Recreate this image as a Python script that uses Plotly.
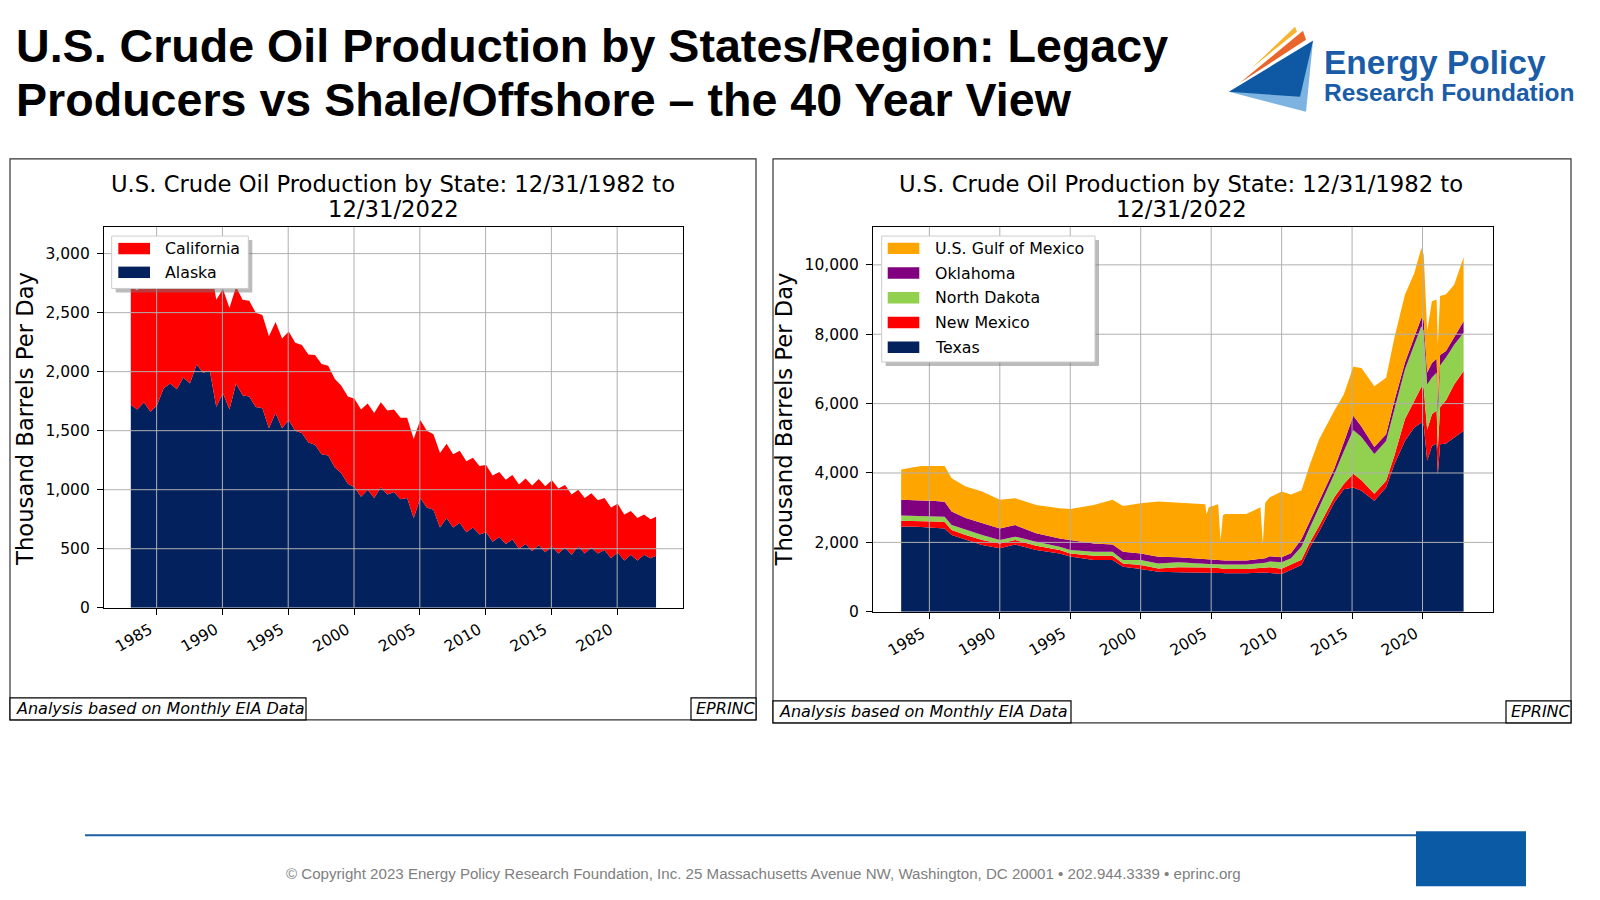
import plotly.graph_objects as go

# page has an 8px body margin; the captured picture is also slightly compressed vertically,
# so page-pixel targets are mapped onto figure pixels here
OFF = 8
W, H = 1600 - 2 * OFF, 892
YS, YO = 1.01208, 8.47
def fx(p): return (p - OFF) / W
def fy(p): return 1 - (YS * p - YO) / H

# ---------------- Left chart data (semi-annual readings, kb/d) ----------------
left_years = list(range(1983, 2023))
left_dates = [f"{y}-{m}-15" for y in left_years for m in ("01", "07")] + ["2022-12-15"]
alaska = [1720, 1680, 1740, 1660, 1720, 1860, 1900, 1850, 1950, 1900,
          2060, 1990, 2010, 1700, 1820, 1680, 1900, 1800, 1790, 1700,
          1690, 1520, 1650, 1520, 1590, 1500, 1480, 1400, 1380, 1300,
          1290, 1190, 1140, 1050, 1020, 940, 1000, 930, 1020, 960,
          980, 920, 930, 760, 930, 850, 830, 680, 760, 680,
          720, 640, 680, 620, 640, 560, 600, 540, 580, 500,
          540, 480, 530, 470, 520, 460, 510, 450, 520, 460,
          510, 460, 490, 420, 470, 400, 450, 400, 450, 420, 440]
california = [1000, 1010, 1030, 1040, 1050, 1050, 1040, 1030, 1000, 990,
              980, 960, 930, 910, 880, 860, 820, 810, 810, 800,
              790, 780, 770, 760, 750, 745, 745, 745, 760, 765,
              760, 750, 740, 740, 750, 740, 730, 720, 720, 710,
              700, 690, 680, 670, 660, 650, 640, 630, 630, 620,
              610, 600, 590, 580, 570, 560, 550, 545, 545, 545,
              555, 555, 560, 560, 560, 550, 530, 510, 480, 470,
              460, 450, 440, 430, 410, 390, 370, 360, 340, 330, 330]

# ---------------- Right chart data (kb/d) ----------------
right_dates = ["1983-01", "1983-09", "1984-06", "1985-06", "1986-02", "1986-08",
               "1987-08", "1988-10", "1990-01", "1991-02", "1992-08", "1994-04",
               "1995-01", "1996-09", "1998-01", "1998-10", "2000-01", "2001-04",
               "2002-09", "2004-03", "2004-08", "2004-09", "2004-11", "2005-07",
               "2005-09", "2005-11", "2006-01", "2007-07", "2008-07", "2008-09",
               "2008-11", "2009-03", "2010-01", "2010-09", "2011-06", "2012-01",
               "2012-09", "2013-10", "2014-06", "2015-02", "2015-09", "2016-08",
               "2017-06", "2018-01", "2018-10", "2019-06", "2019-12", "2020-02",
               "2020-05", "2020-09", "2021-01", "2021-02", "2021-04", "2021-09",
               "2022-04", "2022-12"]
texas = [2450, 2460, 2440, 2420, 2400, 2210, 2070, 1925, 1830, 1940, 1780, 1680,
         1590, 1490, 1490, 1300, 1230, 1150, 1140, 1140, 1140, 1135, 1135, 1130,
         1120, 1115, 1110, 1110, 1130, 1130, 1130, 1120, 1090, 1210, 1350, 1850,
         2320, 3160, 3530, 3580, 3490, 3200, 3580, 4255, 4925, 5310, 5450, 5400,
         4350, 4780, 4850, 3950, 4830, 4850, 5020, 5215]
new_mexico = [170, 160, 170, 180, 190, 150, 140, 145, 140, 130, 120, 100,
              90, 125, 125, 90, 115, 95, 145, 145, 145, 145, 140, 130,
              130, 130, 125, 125, 130, 130, 135, 160, 150, 145, 150, 150,
              160, 150, 150, 400, 300, 200, 195, 240, 625, 765, 1030, 1050,
              900, 910, 950, 750, 1070, 1250, 1530, 1725]
north_dakota = [155, 150, 150, 150, 150, 140, 150, 140, 100, 95, 120, 95,
                100, 115, 115, 100, 145, 145, 140, 95, 95, 95, 100, 110,
                110, 115, 125, 125, 140, 140, 150, 170, 190, 190, 380, 420,
                520, 670, 950, 1260, 1250, 1150, 1150, 1340, 1435, 1625, 1750, 1650,
                1300, 1060, 1100, 1000, 1200, 1230, 1150, 1100]
oklahoma = [455, 450, 460, 440, 430, 390, 340, 340, 330, 335, 240, 240,
            290, 240, 210, 240, 190, 195, 145, 145, 145, 145, 140, 130,
            130, 120, 115, 115, 120, 120, 130, 150, 140, 145, 220, 190,
            200, 160, 250, 410, 300, 200, 190, 240, 190, 195, 240, 300,
            350, 420, 400, 350, 300, 190, 200, 335]
gulf_of_mexico = [870, 930, 980, 1010, 1030, 960, 910, 920, 830, 775, 820, 870,
                  895, 1110, 1290, 1320, 1450, 1595, 1580, 1575, 1575, 1280, 1500, 1600,
                  560, 1300, 1340, 1340, 1490, 430, 1600, 1700, 1900, 1690, 1400, 1630,
                  1770, 1660, 1380, 1410, 1690, 1750, 1630, 1820, 1965, 1865, 2010, 1900,
                  1200, 1780, 1700, 1650, 1700, 1630, 1530, 1845]

year_ticks = ["1985", "1990", "1995", "2000", "2005", "2010", "2015", "2020"]
left_yticks = [0, 500, 1000, 1500, 2000, 2500, 3000]
right_yticks = [0, 2000, 4000, 6000, 8000, 10000]

NAVY = "#03215c"
RED = "#ff0000"
ORANGE = "#ffa500"
PURPLE = "#800080"
GREEN = "#92d050"
DV = "DejaVu Sans"
AR = "Liberation Sans, Arial"

fig = go.Figure()

def area(x, y, name, color, xa, ya):
    fig.add_trace(go.Scatter(x=x, y=y, name=name, mode="lines", stackgroup=xa,
                             line=dict(width=0, color=color), fillcolor=color,
                             xaxis=xa, yaxis=ya, showlegend=False, hoverinfo="skip"))

area(left_dates, alaska, "Alaska", NAVY, "x", "y")
area(left_dates, california, "California", RED, "x", "y")
area(right_dates, texas, "Texas", NAVY, "x2", "y2")
area(right_dates, new_mexico, "New Mexico", RED, "x2", "y2")
area(right_dates, north_dakota, "North Dakota", GREEN, "x2", "y2")
area(right_dates, oklahoma, "Oklahoma", PURPLE, "x2", "y2")
area(right_dates, gulf_of_mexico, "U.S. Gulf of Mexico", ORANGE, "x2", "y2")

tickvals_x = [f"{t}-01-01" for t in year_ticks]
xcommon = dict(type="date", range=["1981-01-01", "2025-01-01"], tickvals=tickvals_x,
               ticktext=year_ticks, tickangle=-30, showgrid=False, showline=True,
               linecolor="black", linewidth=1.2, mirror=True, ticks="outside",
               ticklen=6, tickcolor="black", zeroline=False, ticklabelshift=-7,
               tickfont=dict(family=DV, size=15.5, color="black"))
ycommon = dict(showgrid=False, showline=True, linecolor="black", linewidth=1.2,
               mirror=True, ticks="outside", ticklen=6, tickcolor="black",
               zeroline=False, tickformat=",d", ticklabelstandoff=4,
               tickfont=dict(family=DV, size=15.5, color="black"))

fig.update_layout(
    width=W, height=H, margin=dict(l=0, r=0, t=0, b=0),
    paper_bgcolor="white", plot_bgcolor="white", showlegend=False,
    xaxis=dict(xcommon, domain=[fx(104), fx(683)], anchor="y"),
    yaxis=dict(ycommon, domain=[fy(607), fy(227)], range=[0, 3225],
               tickvals=left_yticks, anchor="x"),
    xaxis2=dict(xcommon, domain=[fx(873), fx(1493)], anchor="y2"),
    yaxis2=dict(ycommon, domain=[fy(611), fy(227)], range=[0, 11090],
                tickvals=right_yticks, anchor="x2"),
)

shapes = []
# gridlines above areas
for xa, ya, yt in (("x", "y", left_yticks), ("x2", "y2", right_yticks)):
    for t in tickvals_x:
        shapes.append(dict(type="line", xref=xa, yref=ya + " domain", x0=t, x1=t, y0=0, y1=1,
                           line=dict(color="#b0b0b0", width=1), layer="above"))
    for v in yt[1:]:
        shapes.append(dict(type="line", xref=xa + " domain", yref=ya, x0=0, x1=1, y0=v, y1=v,
                           line=dict(color="#b0b0b0", width=1), layer="above"))

def rect(x0, y0, x1, y1, **kw):
    d = dict(type="rect", xref="paper", yref="paper", x0=fx(x0), x1=fx(x1),
             y0=fy(y1), y1=fy(y0), layer="above")
    d.update(kw)
    shapes.append(d)

ann = []
def text(x, y, s, size, family=DV, color="black", xanchor="center", angle=0):
    ann.append(dict(x=fx(x), y=fy(y), xref="paper", yref="paper", text=s, showarrow=False,
                    xanchor=xanchor, yanchor="middle", textangle=angle, align="left",
                    font=dict(family=family, size=size, color=color)))

# matplotlib-style legends (box with shadow, filled patches)
def legend(box, patch_x, label_x, centers, entries):
    x0, y0, x1, y1 = box
    rect(x0 + 4, y0 + 4, x1 + 4, y1 + 4, line=dict(width=0), fillcolor="rgba(120,120,120,0.5)")
    rect(x0, y0, x1, y1, line=dict(color="#cccccc", width=1), fillcolor="white")
    for (name, color), cy in zip(entries, centers):
        rect(patch_x[0], cy - 5.7, patch_x[1], cy + 5.7, line=dict(width=0), fillcolor=color)
        text(label_x, cy, name, 15.8, xanchor="left")

legend((111.7, 236, 248.3, 288.3), (118.3, 150), 163.3, [248.5, 272.2],
       [("California", RED), ("Alaska", NAVY)])
legend((881.7, 236, 1095, 361.7), (887.7, 919.3), 933.3,
       [248.3, 272.9, 297.6, 322.3, 347.0],
       [("U.S. Gulf of Mexico", ORANGE), ("Oklahoma", PURPLE), ("North Dakota", GREEN),
        ("New Mexico", RED), ("Texas", NAVY)])

# panel borders
rect(10, 159, 756, 719, line=dict(color="#333333", width=1.2), fillcolor="rgba(0,0,0,0)", layer="below")
rect(773, 159, 1571, 722, line=dict(color="#333333", width=1.2), fillcolor="rgba(0,0,0,0)", layer="below")
# note boxes
for (a, b, c, d) in ((10, 697, 306, 719), (691, 697, 756, 719), (773, 700, 1071, 722), (1506, 700, 1571, 722)):
    rect(a, b, c, d, line=dict(color="black", width=1.2), fillcolor="white")
# footer
shapes.append(dict(type="line", xref="paper", yref="paper", x0=fx(85), x1=fx(1418),
                   y0=fy(834), y1=fy(834), line=dict(color="#1f5fa8", width=2)))
rect(1416, 830, 1526, 885, line=dict(width=0), fillcolor="#0b5aa6")

def path(pts, color):
    s = "M " + " L ".join(f"{fx(a)},{fy(b)}" for a, b in pts) + " Z"
    shapes.append(dict(type="path", xref="paper", yref="paper", path=s,
                       fillcolor=color, line=dict(width=0), layer="above"))

# logo
path([(1229, 92), (1306, 112), (1313, 41)], "#7db3e0")
path([(1229, 92), (1313, 41), (1300, 97)], "#0f58a3")
path([(1240, 83), (1303, 31), (1306, 40)], "#e9652c")
path([(1252, 68), (1295, 27), (1297, 32)], "#f6b531")
fig.update_layout(shapes=shapes)

text(14, 46, "<b>U.S. Crude Oil Production by States/Region: Legacy</b>", 46.6, AR, xanchor="left")
text(14, 100, "<b>Producers vs Shale/Offshore – the 40 Year View</b>", 46.6, AR, xanchor="left")
text(1322, 75.5, "<b><span style='font-size:33.5px'>Energy Policy</span></b><br>"
     "<b><span style='font-size:24.5px'>Research Foundation</span></b>",
     21, AR, color="#1a5ca8", xanchor="left")

for cx, ytc in ((393, 25.5), (1181, 784)):
    text(cx, 184, "U.S. Crude Oil Production by State: 12/31/1982 to", 22.7)
    text(cx, 209, "12/31/2022", 22.7)
    text(ytc, 419, "Thousand Barrels Per Day", 22.7, angle=-90)

text(14, 708, "<i>Analysis based on Monthly EIA Data</i>", 16, xanchor="left")
text(694, 708, "<i>EPRINC</i>", 16, xanchor="left")
text(777, 711, "<i>Analysis based on Monthly EIA Data</i>", 16, xanchor="left")
text(1509, 711, "<i>EPRINC</i>", 16, xanchor="left")

text(763, 872, "© Copyright 2023 Energy Policy Research Foundation, Inc. 25 Massachusetts Avenue NW, "
     "Washington, DC 20001 • 202.944.3339 • eprinc.org", 15.1, AR, color="#808080")
fig.update_layout(annotations=ann)

fig.write_html("out.html")
